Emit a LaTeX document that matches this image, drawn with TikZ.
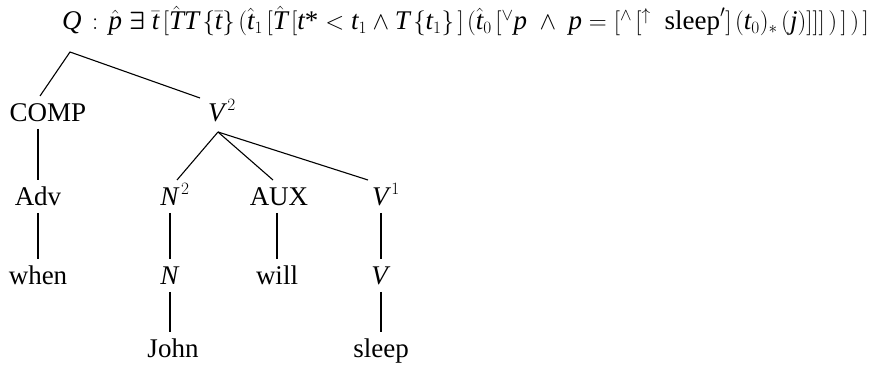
\documentclass[tikz,border=0pt]{standalone}
\usepackage{amsmath}
\usepackage{fontspec}
\setmainfont{Liberation Serif}
\newcommand\vv[1]{\textit{#1}}
\newcommand\gp{\mspace{2.5mu}}
\begin{document}
\begin{tikzpicture}[x=1pt,y=1pt,
  lab/.style={anchor=base,inner sep=0pt,text height=19pt,text depth=0pt,outer ysep=7pt,font=\fontsize{27}{32}\selectfont},
  edge/.style={line width=1.1pt}]
\useasboundingbox (0,0) rectangle (875,364);
\node[anchor=base west,inner sep=0pt,font=\fontsize{27}{32}\selectfont] (formula) at (62,334)
 {$\vv{Q}\gp:\gp\hat{\vv{p}}\;\boldsymbol{\exists}\;\bar{\vv{t}}\gp[\hat{\vv{T}}\vv{T}\gp\{\bar{\vv{t}}\}\gp(\hat{\vv{t}}_1\gp[\hat{\vv{T}}\gp[\vv{t}\text{*}<\vv{t}_1\wedge\vv{T}\gp\{\vv{t}_1\}\gp]\gp(\hat{\vv{t}}_0\gp[{}^{\vee}\vv{p}\;\wedge\;\vv{p}=[{}^{\wedge}\gp[{}^{\uparrow}\;\; \textrm{sleep}']\gp(\vv{t}_0)_*\gp(\vv{j})]]]\gp)\gp]\gp)\gp]$};
\coordinate (root) at ([xshift=8pt,yshift=-22pt]formula.base west);
\node[lab] (COMP) at (48,242) {COMP};
\node[lab] (V2) at (222,242) {$\vv{V}^{\,2}$};
\node[lab] (Adv) at (38,158) {Adv};
\node[lab] (N2) at (175,158) {$\vv{N}^{\,2}$};
\node[lab] (AUX) at (279,158) {AUX};
\node[lab] (V1) at (386,158) {$\vv{V}^{\,1}$};
\node[lab] (when) at (38,79) {when};
\node[lab] (N) at (170,79) {\vv{N}};
\node[lab] (will) at (277,79) {will};
\node[lab] (V) at (381,79) {\vv{V}};
\node[lab] (John) at (173,6) {John};
\node[lab] (sleep) at (381,6) {sleep};
\draw[edge] ([xshift=-8pt]COMP.north) -- (root) -- ([xshift=-22pt,yshift=-2pt]V2.north);
\draw[edge] (COMP.south -| Adv.south) -- (Adv.north);
\coordinate (apex) at ([xshift=-4pt,yshift=-3pt]V2.south);
\draw[edge] (apex) -- ([xshift=2pt]N2.north);
\draw[edge] (apex) -- ([xshift=-6pt]AUX.north);
\draw[edge] (apex) -- ([xshift=-18pt]V1.north);
\draw[edge] (Adv.south) -- (Adv.south |- when.north);
\draw[edge] (N2.south -| N.south) -- (N.north);
\draw[edge] (AUX.south -| will.south) -- (will.north);
\draw[edge] (V1.south -| V.south) -- (V.north);
\draw[edge] (N.south) -- (N.south |- John.north);
\draw[edge] (V.south) -- (V.south |- sleep.north);
\end{tikzpicture}
\end{document}
